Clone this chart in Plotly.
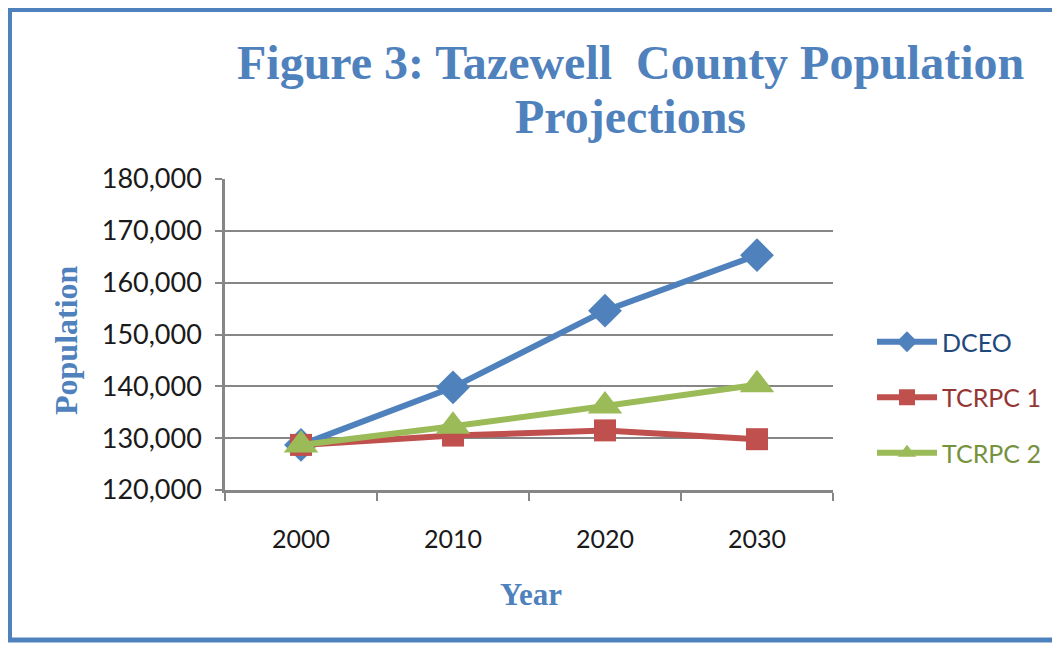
import plotly.graph_objects as go

years = ["2000", "2010", "2020", "2030"]
dceo = [128700, 139800, 154600, 165300]
tcrpc1 = [128700, 130500, 131500, 129800]
tcrpc2 = [128700, 132300, 136200, 140300]
y_ticks = [120000, 130000, 140000, 150000, 160000, 170000, 180000]

series = [
    ("DCEO", dceo, "#4F81BD", "#1F497D", "diamond", 26),
    ("TCRPC 1", tcrpc1, "#C0504D", "#943634", "square", 22),
    ("TCRPC 2", tcrpc2, "#9BBB59", "#76923C", "triangle-up", 30),
]

fig = go.Figure()
for i, (name, vals, col, tcol, sym, ms) in enumerate(series):
    fig.add_trace(go.Scatter(
        x=years, y=vals, mode="lines+markers",
        name=f"<span style='color:{tcol}'>{name}</span>",
        legendgroup=f"g{i}",
        line=dict(color=col, width=6),
        marker=dict(symbol=sym, size=ms, color=col, line=dict(width=0)),
    ))

OFF = 8  # browser body margin
L, R, T, B = 225 - OFF, 833 - OFF, 179 - OFF, 490 - OFF
W, H = 1060 - OFF, 645 - OFF
pw, ph = R - L, B - T

def px(x):
    return (x - OFF - L) / pw

def py(y):
    return (B - (y - OFF)) / ph

blue = "#4F81BD"
grey = "#868686"
serif = "Liberation Serif"

fig.update_layout(
    width=W, height=H,
    margin=dict(l=L, r=W - R, t=T, b=H - B, pad=0),
    paper_bgcolor="white", plot_bgcolor="white",
    showlegend=True,
    legend=dict(x=px(872), y=py(319), xanchor="left", yanchor="top",
                font=dict(family="Lato", size=25),
                itemwidth=60, tracegroupgap=20, traceorder="grouped",
                bgcolor="rgba(0,0,0,0)"),
    xaxis=dict(type="category", range=[-0.5, 3.5], tickson="boundaries",
               ticks="outside", ticklen=8, tickwidth=2, tickcolor=grey,
               ticklabelstandoff=25,
               showline=True, linecolor=grey, linewidth=2.5,
               showgrid=False, zeroline=False,
               tickfont=dict(family="Lato", size=25, color="#1a1a1a")),
    yaxis=dict(range=[120000, 180000], tickvals=y_ticks, tickformat=",",
               ticks="outside", ticklen=7, tickwidth=2, tickcolor=grey,
               ticklabelstandoff=8,
               showline=True, linecolor=grey, linewidth=2.5,
               showgrid=True, gridcolor=grey, gridwidth=2, zeroline=False,
               tickfont=dict(family="Lato", size=27, color="#1a1a1a")),
    annotations=[
        dict(text="Figure 3: Tazewell  County Population",
             x=px(630), y=py(62), xref="paper", yref="paper",
             xanchor="center", yanchor="middle", showarrow=False,
             font=dict(family=serif, size=48, color=blue, weight="bold")),
        dict(text="Projections",
             x=px(630), y=py(116), xref="paper", yref="paper",
             xanchor="center", yanchor="middle", showarrow=False,
             font=dict(family=serif, size=48, color=blue, weight="bold")),
        dict(text="Population", x=px(66), y=py(340), xref="paper", yref="paper",
             xanchor="center", yanchor="middle", textangle=-90, showarrow=False,
             font=dict(family=serif, size=32, color=blue, weight="bold")),
        dict(text="Year", x=px(531), y=py(594), xref="paper", yref="paper",
             xanchor="center", yanchor="middle", showarrow=False,
             font=dict(family=serif, size=31, color=blue, weight="bold")),
    ],
    shapes=[
        dict(type="rect", xref="paper", yref="paper",
             x0=px(9.5), x1=px(1075), y0=py(640), y1=py(9.5),
             line=dict(color=blue, width=5), fillcolor="rgba(0,0,0,0)", layer="below"),
    ],
)

fig.write_html("out.html")
